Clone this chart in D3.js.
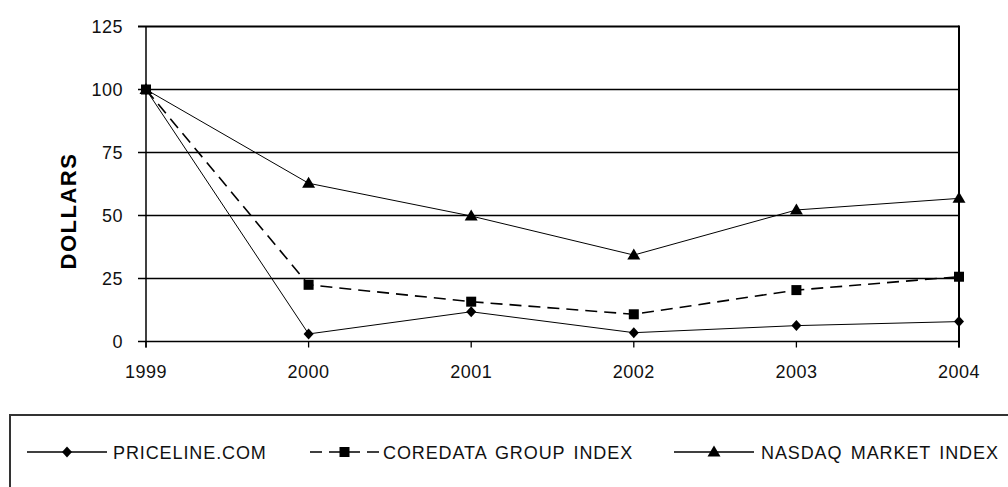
<!DOCTYPE html>
<html>
<head>
<meta charset="utf-8">
<script src="https://cdn.jsdelivr.net/npm/d3@7"></script>
<style>
  body { margin: 0; background: #fff; }
  svg { display: block; font-family: "Liberation Sans", Arial, sans-serif; }
  .tick-label { font-size: 18px; letter-spacing: 0.5px; fill: #111; }
  .legend-text { font-size: 18px; letter-spacing: 0.9px; word-spacing: 2.5px; fill: #111; }
</style>
</head>
<body>
<svg class="chart" width="1008" height="487"></svg>
<script>
// chart data
var years = ['1999', '2000', '2001', '2002', '2003', '2004']
var priceline = [100, 3, 11.8, 3.5, 6.3, 7.9]
var coredata = [100, 22.5, 15.8, 10.8, 20.4, 25.7]
var nasdaq = [100, 62.8, 49.8, 34.3, 52.2, 56.8]
var yTicks = [0, 25, 50, 75, 100, 125]

var seriesNames = ['PRICELINE.COM', 'COREDATA GROUP INDEX', 'NASDAQ MARKET INDEX']
var seriesList = [
    {name: seriesNames[0], values: priceline, dash: null, marker: 'diamond'},
    {name: seriesNames[1], values: coredata, dash: '12,7', marker: 'square'},
    {name: seriesNames[2], values: nasdaq, dash: null, marker: 'triangle'}
]

var svg = d3.select('.chart')

var xScale = d3.scalePoint().domain(years).range([146, 959])
var yScale = d3.scaleLinear().domain([0, 125]).range([341.5, 26.5])

// gridlines
svg.selectAll('.grid').data(yTicks)
    .enter()
    .append('line')
    .attr('class', 'grid')
    .attr('x1', 138)
    .attr('x2', 959)
    .attr('y1', d => yScale(d))
    .attr('y2', d => yScale(d))
    .attr('stroke', '#000')
    .attr('stroke-width', d => d == 125 ? 2 : 1.4)

// y axis line + right border
svg.append('line')
    .attr('x1', 146).attr('x2', 146)
    .attr('y1', yScale(125)).attr('y2', yScale(0) + 6)
    .attr('stroke', '#000').attr('stroke-width', 1.5)
svg.append('line')
    .attr('x1', 959).attr('x2', 959)
    .attr('y1', yScale(125) - 1).attr('y2', yScale(0) + 6)
    .attr('stroke', '#000').attr('stroke-width', 2)

// x ticks
svg.selectAll('.xtick').data(years)
    .enter()
    .append('line')
    .attr('class', 'xtick')
    .attr('x1', d => xScale(d)).attr('x2', d => xScale(d))
    .attr('y1', yScale(0)).attr('y2', yScale(0) + 6)
    .attr('stroke', '#000').attr('stroke-width', 1.3)

svg.selectAll('.xlabel').data(years)
    .enter()
    .append('text')
    .attr('class', 'tick-label')
    .attr('x', d => xScale(d))
    .attr('y', 378)
    .attr('text-anchor', 'middle')
    .text(d => d)

svg.selectAll('.ylabel').data(yTicks)
    .enter()
    .append('text')
    .attr('class', 'tick-label')
    .attr('x', 123)
    .attr('y', d => yScale(d) + 6.5)
    .attr('text-anchor', 'end')
    .text(d => d)

svg.append('text')
    .text('DOLLARS')
    .attr('transform', 'translate(76, 211) rotate(-90)')
    .attr('text-anchor', 'middle')
    .style('font-size', '22px')
    .style('letter-spacing', '1.5px')
    .style('font-weight', 'bold')

function drawMarker(g, type, x, y) {
    if (type == 'diamond') {
        g.append('path').attr('d', `M${x},${y - 5.5}L${x + 5},${y}L${x},${y + 5.5}L${x - 5},${y}Z`).attr('fill', '#000')
    } else if (type == 'square') {
        g.append('rect').attr('x', x - 5).attr('y', y - 5).attr('width', 10).attr('height', 10).attr('fill', '#000')
    } else {
        g.append('path').attr('d', `M${x},${y - 6.5}L${x + 6.5},${y + 4.5}L${x - 6.5},${y + 4.5}Z`).attr('fill', '#000')
    }
}

var line = d3.line()
    .x((d, i) => xScale(years[i]))
    .y(d => yScale(d))

seriesList.forEach(s => {
    var g = svg.append('g').attr('class', 'series')
    g.append('path')
        .attr('d', line(s.values))
        .attr('fill', 'none')
        .attr('stroke', '#000')
        .attr('stroke-width', s.dash ? 1.6 : 1)
        .attr('stroke-dasharray', s.dash)
    s.values.forEach((v, i) => drawMarker(g, s.marker, xScale(years[i]), yScale(v)))
})

// legend
svg.append('rect')
    .attr('x', 10).attr('y', 415)
    .attr('width', 1010).attr('height', 90)
    .attr('fill', 'none')
    .attr('stroke', '#333')
    .attr('stroke-width', 2)

var legendX = [27, 310, 674]
var legendLen = [80, 69, 80]
var legendTextX = [113, 383, 761]
var legendY = 452
seriesList.forEach((s, i) => {
    var g = svg.append('g').attr('class', 'legend-item')
    g.append('line')
        .attr('x1', legendX[i]).attr('x2', legendX[i] + legendLen[i])
        .attr('y1', legendY).attr('y2', legendY)
        .attr('stroke', '#000')
        .attr('stroke-width', s.dash ? 1.6 : 1.3)
        .attr('stroke-dasharray', s.dash)
    drawMarker(g, s.marker, legendX[i] + legendLen[i] / 2, legendY)
    g.append('text')
        .attr('class', 'legend-text')
        .attr('x', legendTextX[i])
        .attr('y', legendY + 6.5)
        .text(s.name)
})
</script>
</body>
</html>
